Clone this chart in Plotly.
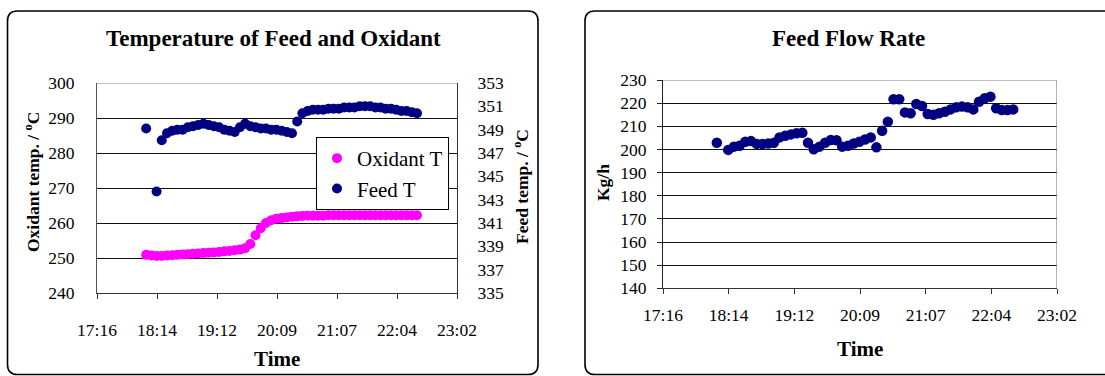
import plotly.graph_objects as go

# ---------------- data ----------------
TIMES = ["18:04", "18:09", "18:14", "18:19", "18:24", "18:29", "18:34", "18:39", "18:44", "18:49",
         "18:54", "18:59", "19:04", "19:09", "19:14", "19:19", "19:24", "19:29", "19:34", "19:39",
         "19:44", "19:49", "19:54", "19:59", "20:04", "20:09", "20:14", "20:19", "20:24", "20:29",
         "20:34", "20:39", "20:44", "20:49", "20:54", "20:59", "21:04", "21:09", "21:14", "21:19",
         "21:24", "21:29", "21:34", "21:39", "21:44", "21:49", "21:54", "21:59", "22:04", "22:09",
         "22:14", "22:19", "22:24"]

OXIDANT_T = [250.9, 250.7, 250.6, 250.6, 250.7, 250.8, 250.9, 251.0, 251.1, 251.2,
             251.3, 251.4, 251.5, 251.6, 251.7, 251.9, 252.0, 252.2, 252.4, 252.8,
             254.0, 256.5, 258.5, 260.0, 260.8, 261.2, 261.4, 261.6, 261.8, 261.9,
             262.0, 262.1, 262.1, 262.1, 262.1, 262.2, 262.2, 262.2, 262.2, 262.2,
             262.2, 262.2, 262.2, 262.2, 262.2, 262.2, 262.2, 262.2, 262.2, 262.2,
             262.2, 262.2, 262.2]

FEED_T = [349.1, None, 343.7, 348.1, 348.7, 348.9, 349.0, 349.0, 349.2, 349.3,
          349.4, 349.5, 349.4, 349.3, 349.2, 349.0, 348.9, 348.8, 349.2, 349.5,
          349.3, 349.2, 349.1, 349.1, 349.0, 349.0, 348.9, 348.8, 348.7, 349.7,
          350.4, 350.6, 350.7, 350.7, 350.7, 350.8, 350.8, 350.8, 350.9, 350.9,
          350.9, 351.0, 351.0, 351.0, 350.9, 350.9, 350.8, 350.8, 350.7, 350.6,
          350.6, 350.5, 350.4]

FEED_FLOW = [202.9, None, 199.8, 201.2, 201.6, 203.3, 203.6, 202.4, 202.3, 202.6,
             202.9, 205.2, 205.9, 206.5, 207.0, 207.2, 202.9, 200.1, 201.2, 202.9,
             204.1, 204.0, 201.2, 201.6, 202.6, 203.3, 204.3, 205.2, 200.9, 208.1,
             212.0, 221.7, 221.7, 216.0, 215.6, 219.6, 218.8, 215.3, 215.0, 215.6,
             216.3, 217.3, 218.2, 218.5, 218.2, 217.3, 220.6, 222.1, 222.8, 217.8,
             217.0, 217.0, 217.3]

TICK_LABELS = ["17:16", "18:14", "19:12", "20:09", "21:07", "22:04", "23:02"]
TICK_DAYS = [0.72, 0.76, 0.80, 0.84, 0.88, 0.92, 0.96]


def to_day(s):
    h, m = s.split(":")
    return int(h) / 24 + int(m) / 1440


X = [to_day(t) for t in TIMES]

# ---------------- layout helpers ----------------
W, H = 1105, 376
FONT = "Liberation Serif, Times New Roman, serif"
CLEAR = "rgba(0,0,0,0)"


def px(x):
    return x / W


def py(y):
    return 1 - y / H


def rounded_box(x0, y0, x1, y1, r):
    pts = [
        ("M", (x0 + r, y0)), ("L", (x1 - r, y0)), ("Q", (x1, y0), (x1, y0 + r)),
        ("L", (x1, y1 - r)), ("Q", (x1, y1), (x1 - r, y1)), ("L", (x0 + r, y1)),
        ("Q", (x0, y1), (x0, y1 - r)), ("L", (x0, y0 + r)), ("Q", (x0, y0), (x0 + r, y0)),
    ]
    s = ""
    for p in pts:
        cmd = p[0]
        coords = " ".join(f"{px(a):.5f},{py(b):.5f}" for a, b in p[1:])
        s += f"{cmd}{coords} "
    return s + "Z"


fig = go.Figure()

fig.add_trace(go.Scatter(x=X, y=OXIDANT_T, mode="markers", name="Oxidant T",
                         marker=dict(color="#FF00FF", size=10), xaxis="x", yaxis="y"))
fig.add_trace(go.Scatter(x=X, y=FEED_T, mode="markers", name="Feed T",
                         marker=dict(color="#000080", size=10), xaxis="x", yaxis="y2"))
fig.add_trace(go.Scatter(x=X, y=FEED_FLOW, mode="markers", name="Feed Flow",
                         marker=dict(color="#000080", size=10.5), xaxis="x2", yaxis="y4",
                         showlegend=False))

tickfont = dict(family=FONT, size=17.5, color="black")
xr = [0.7199999, 0.9600001]
common = dict(automargin=False, zeroline=False)
ydom = [py(293), py(83)]

fig.update_layout(
    template="none",
    width=W, height=H,
    margin=dict(l=0, r=0, t=0, b=0, pad=0, autoexpand=False),
    paper_bgcolor="white", plot_bgcolor="white",
    font=dict(family=FONT, color="black"),
    xaxis=dict(domain=[px(97), px(457)], range=xr, tickvals=TICK_DAYS, ticktext=TICK_LABELS,
               ticks="outside", ticklen=5, tickcolor="#333", showline=True, linecolor="#333",
               showgrid=False, tickfont=tickfont, ticklabelstandoff=16,
               anchor="y", **common),
    # left temperature axis: labels pushed out by a long transparent tick
    yaxis=dict(domain=ydom, range=[240, 300], dtick=10, ticks="outside",
               ticklen=18, tickcolor=CLEAR, showline=True, linecolor="#555",
               showgrid=True, gridcolor="#111", gridwidth=1,
               tickfont=tickfont, anchor="x", **common),
    yaxis5=dict(overlaying="y", side="left", range=[240, 300], dtick=10, ticks="outside",
                ticklen=5, tickcolor="#555", showline=False, showgrid=False,
                showticklabels=False, anchor="x", **common),
    yaxis2=dict(overlaying="y", side="right", range=[335, 353], tick0=335, dtick=2,
                ticks="outside", ticklen=16, tickcolor=CLEAR, showline=True, linecolor="#333",
                showgrid=False, tickfont=tickfont, anchor="x", **common),
    yaxis3=dict(overlaying="y", side="right", range=[335, 353], tick0=335, dtick=2,
                ticks="inside", ticklen=5, tickcolor="#333", showline=False, showgrid=False,
                showticklabels=False, anchor="x", **common),
    yaxis6=dict(overlaying="y", side="right", range=[335, 353], tick0=335, dtick=2,
                ticks="outside", ticklen=5, tickcolor="#333", showline=False, showgrid=False,
                showticklabels=False, anchor="x", **common),
    xaxis2=dict(domain=[px(663), px(1057)], range=xr, tickvals=TICK_DAYS, ticktext=TICK_LABELS,
                ticks="outside", ticklen=5, tickcolor="#333", showline=True, linecolor="#333",
                showgrid=False, tickfont=tickfont, ticklabelstandoff=6,
                anchor="y4", **common),
    yaxis4=dict(domain=[py(288.3), py(80)], range=[140, 230], dtick=10, ticks="outside",
                ticklen=5, tickcolor="#222", showline=True, linecolor="#222",
                showgrid=True, gridcolor="#111", gridwidth=1,
                tickfont=tickfont, ticklabelstandoff=7, anchor="x2", **common),
    legend=dict(x=px(316), y=py(137), xanchor="left", yanchor="top",
                bordercolor="black", borderwidth=1, bgcolor="white",
                font=dict(family=FONT, size=21, color="black"), itemwidth=30,
                tracegroupgap=0),
    showlegend=True,
)

shapes = [
    dict(type="path", xref="paper", yref="paper", path=rounded_box(7.5, 11, 538, 374.5, 10),
         line=dict(color="black", width=1.6), layer="below"),
    dict(type="path", xref="paper", yref="paper", path=rounded_box(585, 11, 1125, 374.5, 10),
         line=dict(color="black", width=1.6), layer="below"),
    # plot-area borders (grey)
    dict(type="line", xref="x", yref="y", x0=xr[0], x1=xr[1], y0=300, y1=300,
         line=dict(color="#808080", width=1.2)),
    dict(type="line", xref="x2", yref="y4", x0=xr[0], x1=xr[1], y0=230, y1=230,
         line=dict(color="#808080", width=1.2)),
    dict(type="line", xref="x2", yref="y4", x0=0.96, x1=0.96, y0=140, y1=230,
         line=dict(color="#808080", width=1.2)),
]
fig.update_layout(shapes=shapes)

title_font = dict(family=FONT, size=23, color="black")
axis_font = dict(family=FONT, size=17.5, color="black")
time_font = dict(family=FONT, size=21, color="black")
annos = [
    dict(text="<b>Temperature of Feed and Oxidant</b>", x=px(273), y=py(38), font=title_font),
    dict(text="<b>Feed Flow Rate</b>", x=px(848), y=py(38), font=title_font),
    dict(text="<b>Time</b>", x=px(277), y=py(359), font=time_font),
    dict(text="<b>Time</b>", x=px(860), y=py(349), font=time_font),
    dict(text="<b>Oxidant temp. / <sup>o</sup>C</b>", x=px(32), y=py(182), textangle=-90,
         font=axis_font),
    dict(text="<b>Feed temp. / <sup>o</sup>C</b>", x=px(521), y=py(187), textangle=-90,
         font=axis_font),
    dict(text="<b>Kg/h</b>", x=px(603), y=py(183), textangle=-90, font=axis_font),
]
for a in annos:
    a.update(xref="paper", yref="paper", xanchor="center", yanchor="middle", showarrow=False)
fig.update_layout(annotations=annos)

fig.write_html("out.html")
